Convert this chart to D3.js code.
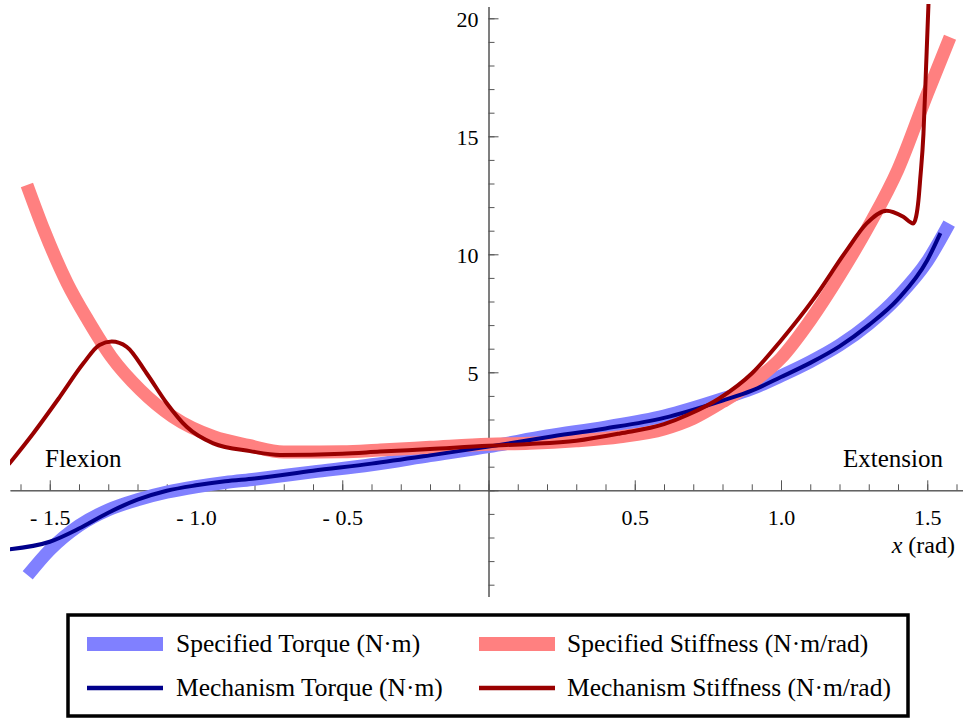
<!DOCTYPE html>
<html>
<head>
<meta charset="utf-8">
<script src="https://cdn.jsdelivr.net/npm/d3@7"></script>
<style>
  body { margin: 0; background: #fff; }
  text { font-family: "Liberation Serif", "Times New Roman", serif; fill: #000; }
</style>
</head>
<body>
<svg width="963" height="718"></svg>
<script>
// values: [x (rad), value]
const specTorque = [
  [-1.575,-3.6],[-1.5,-2.53],[-1.4,-1.5],[-1.3,-0.83],[-1.2,-0.4],[-1.1,-0.08],
  [-1.0,0.15],[-0.9,0.33],[-0.8,0.47],[-0.6,0.78],[-0.4,1.08],[-0.2,1.47],
  [0,1.85],[0.2,2.3],[0.4,2.68],[0.6,3.15],[0.8,3.88],[0.9,4.3],[1.0,4.85],
  [1.1,5.45],[1.2,6.15],[1.3,7.05],[1.4,8.2],[1.5,9.7],[1.575,11.3]
];
const mechTorque = [
  [-1.64,-2.5],[-1.5,-2.18],[-1.4,-1.62],[-1.3,-0.95],[-1.2,-0.4],[-1.1,-0.02],
  [-1.0,0.21],[-0.9,0.38],[-0.8,0.5],[-0.6,0.83],[-0.4,1.13],[-0.2,1.48],
  [0,1.85],[0.2,2.25],[0.4,2.62],[0.6,3.07],[0.8,3.8],[0.9,4.22],[1.0,4.8],
  [1.1,5.4],[1.2,6.1],[1.3,7.0],[1.4,8.1],[1.5,9.75],[1.545,10.9]
];
const specStiff = [
  [-1.578,12.94],[-1.52,11.03],[-1.44,8.77],[-1.37,7.22],[-1.29,5.66],[-1.19,4.25],
  [-1.08,3.12],[-0.94,2.27],[-0.82,1.9],[-0.7,1.62],[-0.5,1.63],[-0.37,1.71],
  [-0.2,1.82],[0,1.95],[0.14,1.99],[0.3,2.1],[0.45,2.27],[0.6,2.6],[0.7,3.05],
  [0.8,3.75],[0.9,4.55],[1.0,5.6],[1.1,7.2],[1.2,9.1],[1.3,11.2],[1.4,13.6],
  [1.5,16.8],[1.578,19.2]
];
const mechStiff = [
  [-1.64,1.1],[-1.556,2.42],[-1.465,3.97],[-1.385,5.38],[-1.33,6.16],[-1.288,6.3],
  [-1.237,6.08],[-1.169,4.96],[-1.1,3.69],[-1.032,2.69],[-0.941,1.99],[-0.815,1.66],
  [-0.713,1.5],[-0.5,1.55],[-0.371,1.64],[-0.2,1.75],[0,1.89],[0.14,1.96],
  [0.3,2.1],[0.45,2.41],[0.6,2.8],[0.68,3.19],[0.79,3.9],[0.9,4.95],[1.0,6.35],
  [1.111,8.1],[1.225,10.18],[1.293,11.31],[1.361,11.85],[1.418,11.59],
  [1.452,11.31],[1.462,11.6],[1.47,12.3],[1.476,13.2],[1.487,15.1],
  [1.496,17.95],[1.504,20.56],[1.508,22]
];

const xMajor = [-1.5,-1,-0.5,0,0.5,1,1.5];
const xMinor = d3.range(-16,17).map(d => d/10);
const yMajor = [0,5,10,15,20];
const yMinor = d3.range(-4,21);

const legendItems = [
  {name:"Specified Torque (N\u00b7m)", color:"#8080ff", w:14},
  {name:"Specified Stiffness (N\u00b7m/rad)", color:"#ff8080", w:14},
  {name:"Mechanism Torque (N\u00b7m)", color:"#00008b", w:4.5},
  {name:"Mechanism Stiffness (N\u00b7m/rad)", color:"#990000", w:4.5}
];

const svg = d3.select('svg');

const x = d3.scaleLinear().domain([-1.6359,1.6222]).range([10,963]);
const y = d3.scaleLinear().domain([-4.5,20.5]).range([596.5,6.5]);

const fmt = d => d === 0 ? "" : (d < 0 ? "- " + d3.format(".1f")(-d) : d3.format(".1f")(d));

// x axis: minor ticks then major ticks with labels
svg.append('g')
  .attr('transform', `translate(0,${y(0)})`)
  .call(d3.axisBottom(x).tickValues(xMinor).tickSize(-6).tickSizeOuter(0).tickFormat(""))
  .call(g => g.selectAll('line,path').attr('stroke','#555'));
svg.append('g')
  .attr('transform', `translate(0,${y(0)})`)
  .call(d3.axisBottom(x).tickValues(xMajor).tickSize(-10).tickSizeOuter(0).tickPadding(19).tickFormat(fmt))
  .call(g => g.selectAll('line,path').attr('stroke','#555'))
  .call(g => g.selectAll('text').style('font-size','22px').attr('fill','#000'));

// y axis
svg.append('g')
  .attr('transform', `translate(${x(0)},0)`)
  .call(d3.axisLeft(y).tickValues(yMinor).tickSize(-6).tickSizeOuter(0).tickFormat(""))
  .call(g => g.selectAll('line,path').attr('stroke','#555'));
svg.append('g')
  .attr('transform', `translate(${x(0)},0)`)
  .call(d3.axisLeft(y).tickValues(yMajor).tickSize(-10).tickSizeOuter(0).tickPadding(10).tickFormat(d => d === 0 ? "" : d))
  .call(g => g.selectAll('line,path').attr('stroke','#555'))
  .call(g => g.selectAll('text').style('font-size','22px').attr('fill','#000').attr('dy','0.36em'));

svg.append('defs').append('clipPath').attr('id','clip')
  .append('rect').attr('x',10).attr('y',4).attr('width',953).attr('height',594);

const line = d3.line().x(d => x(d[0])).y(d => y(d[1])).curve(d3.curveMonotoneX);

const plot = svg.append('g').attr('clip-path','url(#clip)');
[specTorque, specStiff, mechTorque, mechStiff].forEach((s,i) => {
  plot.append('path')
    .attr('d', line(s))
    .attr('fill','none')
    .attr('stroke', legendItems[i].color)
    .attr('stroke-width', legendItems[i].w === 14 ? 13 : 4)
    .attr('stroke-linejoin','round');
});

// annotations
svg.append('text').text('Flexion').attr('x',45).attr('y',467).style('font-size','25px');
svg.append('text').text('Extension').attr('x',943).attr('y',467).attr('text-anchor','end').style('font-size','25px');
const xl = svg.append('text').attr('x',955).attr('y',553).attr('text-anchor','end').style('font-size','24px');
xl.append('tspan').text('x').style('font-style','italic');
xl.append('tspan').text(' (rad)');

// legend
const lg = svg.append('g');
lg.append('rect').attr('x',68).attr('y',615).attr('width',840).attr('height',101)
  .attr('fill','#fff').attr('stroke','#000').attr('stroke-width',3.5);
const item = lg.selectAll('g.item').data(legendItems).join('g')
  .attr('class','item')
  .attr('transform',(d,i) => `translate(${i%2 ? 479 : 87},${i<2 ? 644 : 688})`);
item.append('line').attr('x1',0).attr('x2',76).attr('y1',0).attr('y2',0)
  .attr('stroke',d => d.color).attr('stroke-width',d => d.w);
item.append('text').text(d => d.name).attr('x',(d,i) => i%2 ? 88 : 89).attr('y',8)
  .style('font-size','25.5px');
</script>
</body>
</html>
